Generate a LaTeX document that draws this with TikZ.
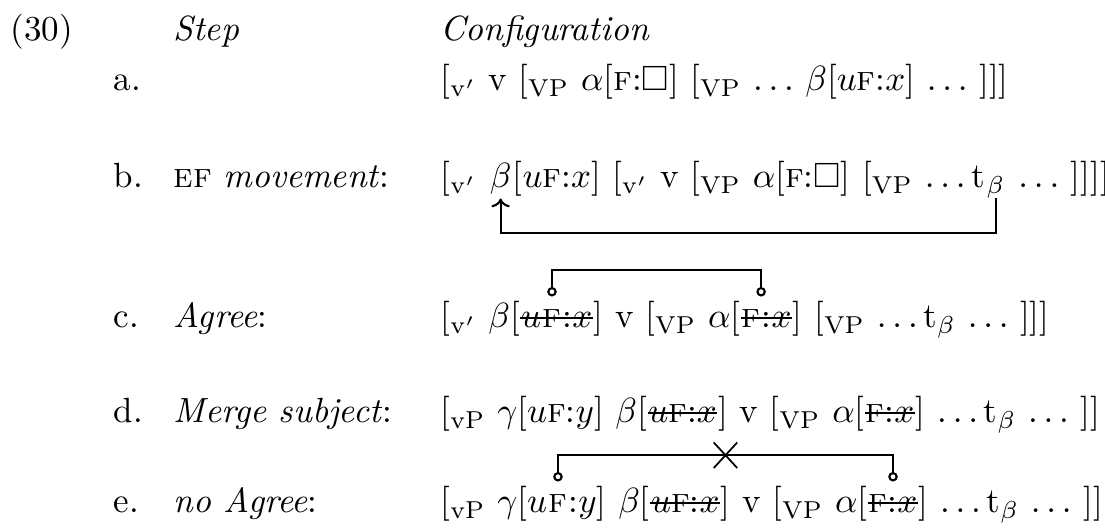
\documentclass[tikz,border=0pt]{standalone}
\usepackage{amsmath}
\usepackage{amssymb}
\usepackage{tikz}
\usetikzlibrary{positioning,arrows.meta,shapes.misc}

\newcommand{\lbl}[1]{[$_{\mathrm{#1}}$}
\newcommand{\fF}{\textsc{f}}

\begin{document}
\begin{tikzpicture}[x=0.2857pt, y=-0.2857pt,
    seg/.style={inner sep=0pt, anchor=base west},
    link/.style={line width=0.6pt, {Circle[open,length=2.7pt]}-{Circle[open,length=2.7pt]}},
    move/.style={line width=0.6pt, -{To[length=2.5pt]}},
    strk/.style={line width=0.45pt},
    nocross/.style={cross out, draw, line width=0.5pt, inner sep=0pt, minimum width=6.2pt, minimum height=6.8pt}]
    \useasboundingbox (0,0) rectangle (1105,529);

    % header
    \node[seg] (num) at (10,41) {(30)};
    \node[seg] (hstep) at (173,41) {\textit{Step}};
    \node[seg] (hconf) at (440,41) {\textit{Configuration}};

    % a. start
    \node[seg] (la) at (113,91) {a.};
    \node[seg] (a1) at (440,91) {\lbl{v'} v \lbl{VP} $\alpha$[\fF:$\square$] \lbl{VP} $\ldots\,\beta$[$u$\fF:$x$] $\ldots$ ]]]};

    % b. EF movement
    \node[seg] (lb) at (113,188) {b.};
    \node[seg] (sb) at (173,188) {\textsc{ef} \textit{movement}:};
    \node[seg] (b1) at (440,188) {\lbl{v'}};
    \node[seg, base right=3.33pt of b1] (b2) {$\beta$};
    \node[seg, base right=0pt of b2] (b3) {[$u$\fF:$x$] \lbl{v'} v \lbl{VP} $\alpha$[\fF:$\square$] \lbl{VP} $\ldots\,$t};
    \node[seg, base right=0pt of b3] (b4) {$_\beta$};
    \node[seg, base right=0pt of b4] (b5) {~$\ldots$~]]]]};
    \draw[move] ([yshift=-3pt]b4.base) -- ([yshift=-12.8pt]b4.base) -| ([yshift=-3pt]b2.base);

    % c. Agree
    \node[seg] (lc) at (113,328) {c.};
    \node[seg] (sc) at (173,328) {\textit{Agree}:};
    \node[seg] (c1) at (440,328) {\lbl{v'}~$\beta$[};
    \node[seg, base right=0pt of c1] (c2) {$u$};
    \node[seg, base right=0pt of c2] (c3) {\fF};
    \node[seg, base right=0pt of c3] (c4) {:$x$};
    \node[seg, base right=0pt of c4] (c5) {] v \lbl{VP} $\alpha$[};
    \node[seg, base right=0pt of c5] (c6) {\fF};
    \node[seg, base right=0pt of c6] (c7) {:$x$};
    \node[seg, base right=0pt of c7] (c8) {] \lbl{VP} $\ldots\,$t$_\beta$ $\ldots$ ]]]};
    \draw[strk] ([yshift=2.8pt]c2.base west) -- ([yshift=2.8pt]c4.base east);
    \draw[strk] ([yshift=2.8pt]c6.base west) -- ([yshift=2.8pt]c7.base east);
    \draw[link] ([yshift=9pt]c3.base) -- ([yshift=16.5pt]c3.base) -| ([yshift=9pt]c6.base east);

    % d. Merge subject
    \node[seg] (ld) at (113,423) {d.};
    \node[seg] (sd) at (173,423) {\textit{Merge subject}:};
    \node[seg] (d1) at (440,423) {\lbl{vP}~$\gamma$[$u$\fF:$y$] $\beta$[};
    \node[seg, base right=0pt of d1] (d2) {$u$\fF:$x$};
    \node[seg, base right=0pt of d2] (d3) {] v \lbl{VP} $\alpha$[};
    \node[seg, base right=0pt of d3] (d4) {\fF:$x$};
    \node[seg, base right=0pt of d4] (d5) {] $\ldots\,$t$_\beta$ $\ldots$ ]]};
    \draw[strk] ([yshift=2.8pt]d2.base west) -- ([yshift=2.8pt]d2.base east);
    \draw[strk] ([yshift=2.8pt]d4.base west) -- ([yshift=2.8pt]d4.base east);

    % e. no Agree
    \node[seg] (le) at (113,513) {e.};
    \node[seg] (se) at (173,513) {\textit{no Agree}:};
    \node[seg] (e1) at (440,513) {\lbl{vP}~$\gamma$[$u$};
    \node[seg, base right=0pt of e1] (e2) {\fF};
    \node[seg, base right=0pt of e2] (e3) {:$y$] $\beta$[};
    \node[seg, base right=0pt of e3] (e4) {$u$\fF:$x$};
    \node[seg, base right=0pt of e4] (e5) {] v \lbl{VP} $\alpha$[};
    \node[seg, base right=0pt of e5] (e6) {\fF:$x$};
    \node[seg, base right=0pt of e6] (e7) {] $\ldots\,$t$_\beta$ $\ldots$ ]]};
    \draw[strk] ([yshift=2.8pt]e4.base west) -- ([yshift=2.8pt]e4.base east);
    \draw[strk] ([yshift=2.8pt]e6.base west) -- ([yshift=2.8pt]e6.base east);
    \draw[link] ([yshift=9pt]e2.base) -- ([yshift=16.5pt]e2.base) -| coordinate[pos=0.25] (emid) ([yshift=9pt]e6.base);
    \node[nocross] (nox) at (emid) {};
\end{tikzpicture}
\end{document}
